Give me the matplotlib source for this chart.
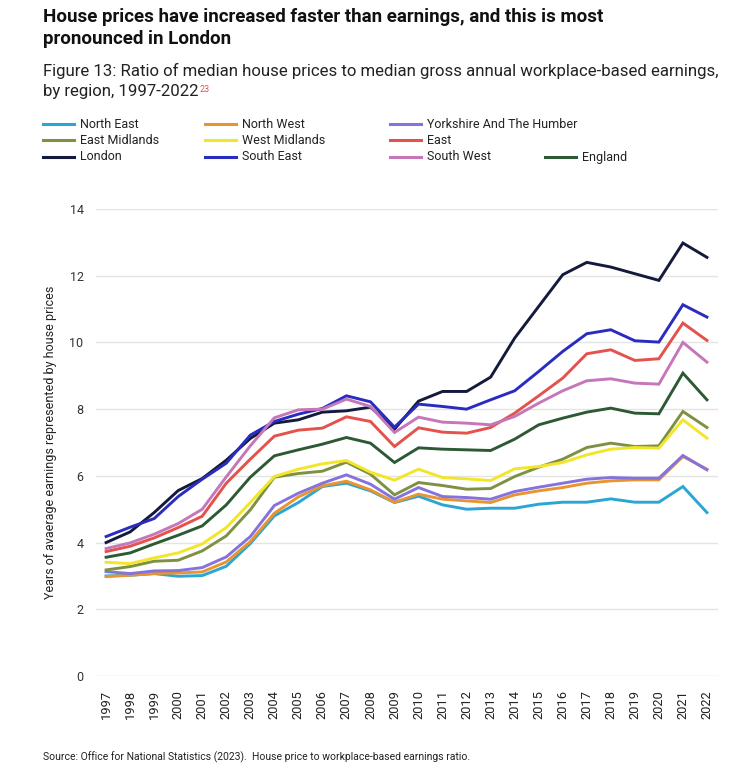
import matplotlib
matplotlib.use("Agg")
import matplotlib.pyplot as plt
from matplotlib.lines import Line2D

plt.rcParams['font.family'] = ['Roboto', 'DejaVu Sans']

years = list(range(1997, 2023))
north_east = [3.00, 3.02, 3.07, 2.99, 3.01, 3.29, 3.97, 4.80, 5.20, 5.68, 5.78, 5.55, 5.20, 5.39, 5.13, 5.00, 5.03, 5.03, 5.15, 5.21, 5.21, 5.31, 5.21, 5.21, 5.68, 4.90]
north_west = [2.98, 3.02, 3.07, 3.09, 3.12, 3.42, 4.03, 4.88, 5.37, 5.70, 5.84, 5.58, 5.21, 5.45, 5.30, 5.25, 5.20, 5.43, 5.55, 5.65, 5.78, 5.85, 5.88, 5.88, 6.58, 6.20]
yorkshire = [3.13, 3.07, 3.15, 3.16, 3.25, 3.57, 4.18, 5.11, 5.48, 5.78, 6.03, 5.75, 5.30, 5.65, 5.38, 5.35, 5.30, 5.53, 5.66, 5.78, 5.90, 5.95, 5.93, 5.93, 6.61, 6.18]
east_midlands = [3.18, 3.28, 3.44, 3.47, 3.75, 4.20, 4.98, 5.96, 6.07, 6.14, 6.41, 6.05, 5.43, 5.80, 5.71, 5.60, 5.62, 5.98, 6.26, 6.50, 6.85, 6.98, 6.88, 6.90, 7.93, 7.45]
west_midlands = [3.41, 3.37, 3.54, 3.69, 3.96, 4.45, 5.20, 5.98, 6.20, 6.36, 6.46, 6.11, 5.87, 6.20, 5.95, 5.91, 5.86, 6.21, 6.28, 6.40, 6.63, 6.80, 6.85, 6.83, 7.68, 7.13]
east = [3.73, 3.89, 4.14, 4.45, 4.79, 5.78, 6.50, 7.19, 7.37, 7.43, 7.77, 7.63, 6.88, 7.44, 7.31, 7.28, 7.45, 7.88, 8.40, 8.93, 9.66, 9.78, 9.46, 9.51, 10.58, 10.06]
london = [4.00, 4.32, 4.90, 5.56, 5.92, 6.47, 7.12, 7.58, 7.68, 7.91, 7.95, 8.06, 7.40, 8.24, 8.53, 8.53, 8.96, 10.13, 11.08, 12.03, 12.40, 12.26, 12.06, 11.86, 12.98, 12.55]
south_east = [4.18, 4.46, 4.72, 5.38, 5.90, 6.38, 7.22, 7.63, 7.85, 8.02, 8.40, 8.22, 7.46, 8.15, 8.08, 8.00, 8.28, 8.55, 9.13, 9.73, 10.26, 10.38, 10.05, 10.01, 11.13, 10.76]
south_west = [3.82, 3.99, 4.25, 4.57, 5.00, 5.97, 6.90, 7.74, 7.98, 8.00, 8.30, 8.08, 7.30, 7.76, 7.61, 7.58, 7.53, 7.78, 8.18, 8.55, 8.85, 8.91, 8.78, 8.75, 10.00, 9.41]
england = [3.56, 3.69, 3.96, 4.22, 4.50, 5.13, 5.96, 6.60, 6.78, 6.95, 7.15, 6.98, 6.40, 6.84, 6.80, 6.78, 6.76, 7.10, 7.53, 7.73, 7.91, 8.03, 7.88, 7.86, 9.08, 8.28]

names = ["North East", "North West", "Yorkshire And The Humber",
         "East Midlands", "West Midlands", "East",
         "London", "South East", "South West", "England"]
series = [north_east, north_west, yorkshire, east_midlands, west_midlands,
          east, london, south_east, south_west, england]
colors = ["#2ba6d4", "#e8952f", "#8672dc", "#7e9142", "#f3e52a",
          "#e4524c", "#141a3c", "#2a2cc0", "#c577b9", "#2d5a34"]
y_ticks = [0, 2, 4, 6, 8, 10, 12, 14]

W, H = 745, 773
fig = plt.figure(figsize=(W / 100, H / 100), dpi=100)
ax = fig.add_axes([96 / W, 1 - 676 / H, (718 - 96) / W, (676 - 209) / H])

for vals, c in zip(series, colors):
    ax.plot(years, vals, color=c, lw=2.1, solid_joinstyle='miter', zorder=3)

ax.set_xlim(1996.58, 2022.46)
ax.set_ylim(0, 14)
ax.set_yticks(y_ticks)
ax.set_xticks(years)
ax.set_xticklabels([str(y) for y in years], rotation=90, fontsize=9.3, color="#222222")
ax.tick_params(axis='y', length=0, pad=9, labelsize=9, labelcolor="#333333")
ax.tick_params(axis='x', length=0, pad=10)
ax.grid(axis='y', color="#e4e4e4", lw=1.0, zorder=0)
for s in ax.spines.values():
    s.set_visible(False)
ax.set_ylabel("Years of avaerage earnings represented by house prices",
              fontsize=9, color="#222222", labelpad=9)

# Titles
fig.text(43 / W, 1 - 8 / H, "House prices have increased faster than earnings, and this is most\npronounced in London",
         fontsize=13.5, fontweight='bold', va='top', ha='left', color="#111111", linespacing=1.28)
fig.text(43 / W, 1 - 63 / H, "Figure 13: Ratio of median house prices to median gross annual workplace-based earnings,",
         fontsize=12.1, va='top', ha='left', color="#222222")
t2 = fig.text(43 / W, 1 - 84 / H, "by region, 1997-2022",
              fontsize=12.1, va='top', ha='left', color="#222222")
fig.canvas.draw()
bb = t2.get_window_extent(fig.canvas.get_renderer())
fig.text(bb.x1 / W + 1 / W, bb.y1 / H - 1 / H, "23", fontsize=6.5, va='top', ha='left',
         color="#e4524c")

# Legend (manual grid)
col_x = [43, 205, 390, 545]
row_y = [124, 140, 157]
layout = [(0, 0), (1, 0), (2, 0), (0, 1), (1, 1), (2, 1), (0, 2), (1, 2), (2, 2), (3, 2)]
for (ci, ri), name, c in zip(layout, names, colors):
    x0 = col_x[ci]
    y0 = 1 - row_y[ri] / H
    fig.add_artist(Line2D([x0 / W, (x0 + 31) / W], [y0, y0], color=c, lw=2.2,
                          transform=fig.transFigure))
    fig.text((x0 + 37) / W, y0, name, fontsize=9, va='center', ha='left', color="#222222")

fig.text(43 / W, 1 - 757 / H, "Source: Office for National Statistics (2023).  House price to workplace-based earnings ratio.",
         fontsize=7.5, va='center', ha='left', color="#222222")

fig.savefig("out.png", dpi=100)
